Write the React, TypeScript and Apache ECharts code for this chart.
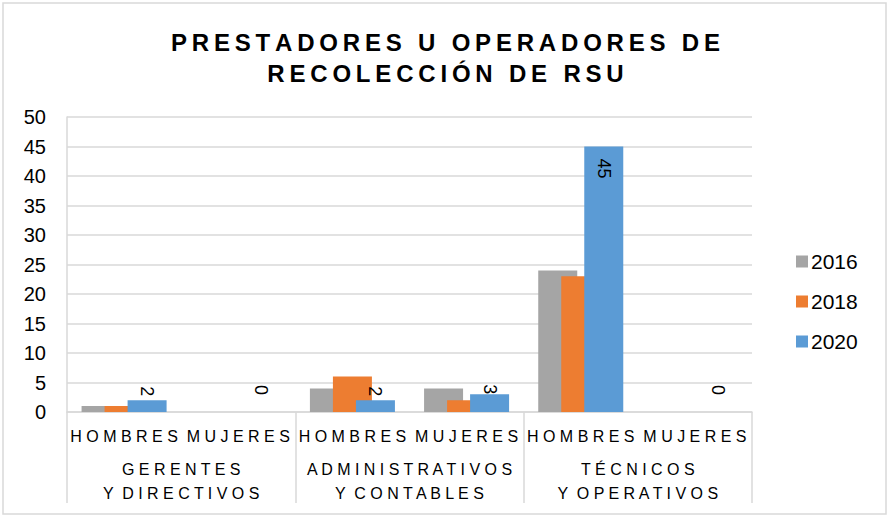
import React, { useEffect, useRef } from "react";
import * as echarts from "echarts";

const titleLines = ["PRESTADORES U OPERADORES DE", "RECOLECCIÓN DE RSU"];
const subCategories = ["HOMBRES", "MUJERES", "HOMBRES", "MUJERES", "HOMBRES", "MUJERES"];
const groupCategories = ["GERENTES\nY DIRECTIVOS", "ADMINISTRATIVOS\nY CONTABLES", "TÉCNICOS\nY OPERATIVOS"];
const seriesNames = ["2016", "2018", "2020"];
const values2016 = [1, 0, 4, 4, 24, 0];
const values2018 = [1, 0, 6, 2, 23, 0];
const values2020 = [2, 0, 2, 3, 45, 0];
const yTicks = [0, 5, 10, 15, 20, 25, 30, 35, 40, 45, 50];

const colors = ["#A5A5A5", "#ED7D31", "#5B9BD5"];
// label offsets (style only) for 2020 labels
const smallLabelDistance = [4, 17, 4, 0, 0, 17];

// emulate letter spacing
const spaceOut = (s: string, sep: string, wordSep: string) =>
  s
    .split("\n")
    .map((line) =>
      line
        .split(" ")
        .map((w) => Array.from(w).join(sep))
        .join(wordSep)
    )
    .join("\n");

export default function App() {
  const ref = useRef<HTMLDivElement>(null);
  useEffect(() => {
    if (!ref.current) return;
    const chart = echarts.init(ref.current, null, { renderer: "svg" });
    const labelFont = "Liberation Sans, Arial, sans-serif";
    const data2020 = values2020.map((v, i) => {
      if (v >= 10) {
        return {
          value: v,
          label: {
            show: true,
            position: "insideTop",
            distance: 12,
            rotate: -90,
            align: "left",
            verticalAlign: "middle",
          },
        };
      }
      return {
        value: v,
        label: {
          show: true,
          position: "top",
          distance: smallLabelDistance[i],
          rotate: -90,
          align: "right",
          verticalAlign: "middle",
        },
      };
    });
    const mk = (name: string, vals: any[], color: string, withLabel: boolean) => ({
      type: "bar",
      name,
      data: vals,
      barWidth: 39,
      barGap: "-41%",
      itemStyle: { color },
      label: withLabel
        ? { fontSize: 18, color: "#000", fontFamily: labelFont }
        : { show: false },
      xAxisIndex: 0,
      yAxisIndex: 0,
    });
    chart.setOption({
      animation: false,
      backgroundColor: "#fff",
      title: {
        text: titleLines.map((l) => spaceOut(l, "\u2009", "\u2009 \u2009")).join("\n"),
        left: "center",
        top: 22,
        textStyle: {
          fontFamily: labelFont,
          fontWeight: "bold",
          fontSize: 24,
          lineHeight: 31,
          color: "#000",
        },
      },
      legend: {
        orient: "vertical",
        left: 791,
        top: 246,
        itemWidth: 12,
        itemHeight: 12,
        itemGap: 19,
        icon: "rect",
        data: seriesNames,
        textStyle: { fontSize: 21, color: "#000", fontFamily: labelFont, padding: [0, 0, 0, -2] },
      },
      grid: { left: 67, right: 139, top: 117, bottom: 105, containLabel: false },
      xAxis: [
        {
          type: "category",
          data: subCategories.map((s) => spaceOut(s, " ", "  ")),
          axisLine: { show: true, lineStyle: { color: "#d9d9d9", width: 1.5 } },
          axisTick: { show: false },
          axisLabel: {
            interval: 0,
            margin: 16,
            fontSize: 16,
            color: "#000",
            fontFamily: labelFont,
          },
        },
        {
          type: "category",
          position: "bottom",
          data: groupCategories.map((s) => spaceOut(s, " ", "  ")),
          axisLine: { show: false },
          axisTick: {
            show: true,
            length: 91,
            interval: 0,
            lineStyle: { color: "#d9d9d9", width: 1.5 },
          },
          axisLabel: {
            interval: 0,
            margin: 45,
            fontSize: 16,
            lineHeight: 24,
            color: "#000",
            fontFamily: labelFont,
          },
        },
      ],
      yAxis: {
        type: "value",
        min: 0,
        max: 50,
        interval: 5,
        axisLine: { show: true, lineStyle: { color: "#d9d9d9", width: 1.5 } },
        axisTick: { show: false },
        splitLine: { lineStyle: { color: "#d9d9d9", width: 1.5 } },
        axisLabel: {
          margin: 21,
          fontSize: 20,
          color: "#000",
          fontFamily: labelFont,
          formatter: (v: number) => (yTicks.includes(v) ? String(v) : ""),
        },
      },
      graphic: [
        {
          type: "rect",
          shape: { x: 3, y: 3, width: 883, height: 511 },
          style: { fill: "none", stroke: "#d9d9d9", lineWidth: 1.5 },
          silent: true,
        },
      ],
      series: [
        mk(seriesNames[0], values2016, colors[0], false),
        mk(seriesNames[1], values2018, colors[1], false),
        mk(seriesNames[2], data2020, colors[2], true),
      ],
    });
    return () => chart.dispose();
  }, []);
  return (
    <div
      ref={ref}
      style={{ position: "fixed", left: 0, top: 0, width: 891, height: 517 }}
    />
  );
}
